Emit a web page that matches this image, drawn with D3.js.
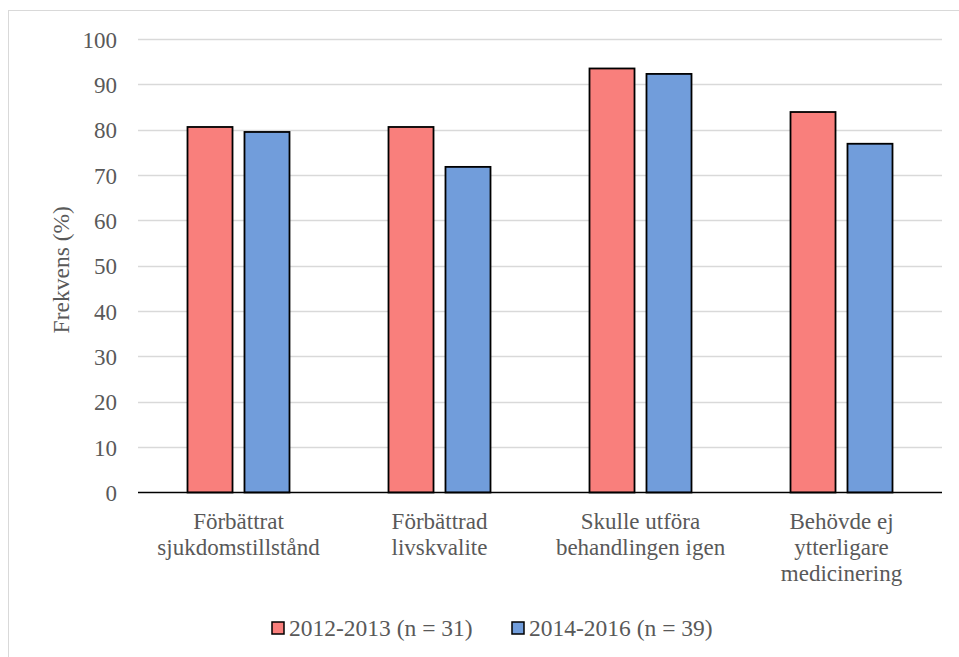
<!DOCTYPE html>
<html>
<head>
<meta charset="utf-8">
<script src="https://cdn.jsdelivr.net/npm/d3@7"></script>
<style>
  html, body { margin: 0; padding: 0; background: #fff; }
  svg { display: block; }
</style>
</head>
<body>
<script>
// Categories (each label split into display lines)
const categories = [
  ["Förbättrat", "sjukdomstillstånd"],
  ["Förbättrad", "livskvalite"],
  ["Skulle utföra", "behandlingen igen"],
  ["Behövde ej", "ytterligare", "medicinering"]
];
const seriesNames = ["2012-2013 (n = 31)", "2014-2016 (n = 39)"];
const series2012 = [80.6, 80.6, 93.5, 83.9];
const series2014 = [79.5, 71.8, 92.3, 76.9];
const yTicks = [0, 10, 20, 30, 40, 50, 60, 70, 80, 90, 100];
const colors = ["#F97F7C", "#719DDB"];

const FONT = '"Liberation Serif"';
const TEXT_COLOR = "#595959";
const FS = "23px";

const W = 959, H = 657;
const plot = { left: 138, right: 942, top: 39, bottom: 492.5 };

const svg = d3.select("body").append("svg").attr("width", W).attr("height", H)
  .attr("font-family", "Liberation Serif");

function styleText(sel, size) {
  return sel.attr("font-family", "Liberation Serif")
    .style("font-family", FONT).style("font-size", size || FS).style("fill", TEXT_COLOR);
}

// chart frame
svg.append("rect")
  .attr("x", 8.5).attr("y", 10.5).attr("width", W + 20).attr("height", H + 20)
  .attr("fill", "none").attr("stroke", "#d9d9d9").attr("stroke-width", 1);

const y = d3.scaleLinear().domain([0, 100]).range([plot.bottom, plot.top]);
const x0 = d3.scaleBand().domain(d3.range(categories.length))
  .range([plot.left, plot.right]).padding(0);
const x1 = d3.scaleBand().domain([0, 1])
  .range([-51, 51]).paddingInner(0.21).paddingOuter(0);

// gridlines
svg.append("g").selectAll("line").data(yTicks.filter(t => t > 0)).join("line")
  .attr("x1", plot.left).attr("x2", plot.right)
  .attr("y1", d => Math.round(y(d)) + 0.5).attr("y2", d => Math.round(y(d)) + 0.5)
  .attr("stroke", "#d9d9d9").attr("stroke-width", 1.5);

// y axis labels
const yAxis = svg.append("g").attr("transform", `translate(${plot.left - 21},0)`)
  .call(d3.axisLeft(y).tickValues(yTicks).tickSize(0).tickPadding(0));
yAxis.attr("font-family", "Liberation Serif").attr("font-size", 23);
yAxis.select(".domain").remove();
styleText(yAxis.selectAll("text")).attr("dy", "0.35em");

// axis title
styleText(svg.append("text")
  .attr("transform", `translate(69,${(plot.top + plot.bottom) / 2 + 4}) rotate(-90)`)
  .attr("text-anchor", "middle"), "23.5px")
  .text("Frekvens (%)");

// bars
const data = categories.map((c, i) => [series2012[i], series2014[i]]);
const groups = svg.append("g").selectAll("g").data(data).join("g")
  .attr("transform", (d, i) => `translate(${x0(i) + x0.bandwidth() / 2},0)`);
groups.selectAll("rect").data(d => d.map((v, s) => ({ v, s }))).join("rect")
  .attr("x", d => x1(d.s))
  .attr("width", x1.bandwidth())
  .attr("y", d => y(d.v))
  .attr("height", d => y(0) - y(d.v))
  .attr("fill", d => colors[d.s])
  .attr("stroke", "#000").attr("stroke-width", 1.8);

// x axis baseline
svg.append("line")
  .attr("x1", plot.left).attr("x2", plot.right)
  .attr("y1", plot.bottom).attr("y2", plot.bottom)
  .attr("stroke", "#000").attr("stroke-width", 1.5);

// category labels
const catLabels = styleText(svg.append("g").selectAll("text").data(categories).join("text")
  .attr("text-anchor", "middle")
  .attr("transform", (d, i) => `translate(${x0(i) + x0.bandwidth() / 2},529)`));
catLabels.selectAll("tspan").data(d => d).join("tspan")
  .attr("x", 0).attr("dy", (d, i) => i === 0 ? 0 : 26).text(d => d);

// legend
const legendItems = [{ x: 272, s: 0 }, { x: 512, s: 1 }];
const lg = svg.append("g").selectAll("g").data(legendItems).join("g")
  .attr("transform", d => `translate(${d.x},622)`);
lg.append("rect").attr("width", 12).attr("height", 12)
  .attr("fill", d => colors[d.s]).attr("stroke", "#000").attr("stroke-width", 1.5);
styleText(lg.append("text").attr("x", 17).attr("y", 14), "23.5px")
  .text(d => seriesNames[d.s]);
</script>
</body>
</html>
